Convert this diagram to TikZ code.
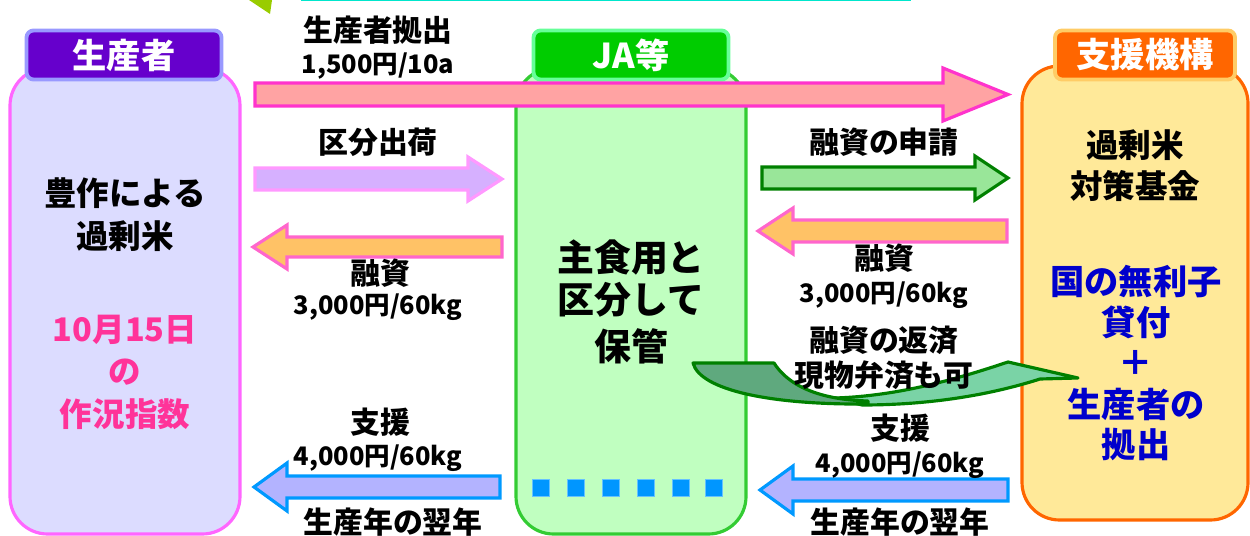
\documentclass[tikz,border=0pt]{standalone}
\usepackage{fontspec}
\setmainfont{Noto Sans CJK JP}
\begin{document}
\begin{tikzpicture}[x=0.02cm,y=-0.02cm,
  lbl/.style={font=\fontsize{17}{20}\selectfont\bfseries, inner sep=0pt},
  num/.style={font=\fontsize{14.5}{17}\selectfont\bfseries, inner sep=0pt},
  tabtxt/.style={font=\fontsize{19.5}{23}\selectfont\bfseries, text=white, inner sep=0pt},
  boxtxt/.style={font=\fontsize{18.5}{22}\selectfont\bfseries, inner sep=0pt},
  bluebox/.style={font=\fontsize{19.5}{23}\selectfont\bfseries, text=bluetxt, inner sep=0pt},
  jatxt/.style={font=\fontsize{21}{25}\selectfont\bfseries, inner sep=0pt},
  bigbox/.style={line width=1.8pt, rounded corners=0.75cm},
  tabbox/.style={line width=2.2pt, rounded corners=0.14cm},
  arr/.style={line width=1.8pt, line join=miter},
  sq/.style={fill=sqblue, draw=sqedge, line width=0.4pt, minimum size=0.34cm, inner sep=0pt}
]
\definecolor{prodfill}{HTML}{DCDCFF}
\definecolor{prodline}{HTML}{FF66FF}
\definecolor{prodtab}{HTML}{6600CC}
\definecolor{prodtabline}{HTML}{9999FF}
\definecolor{jafill}{HTML}{C0FFC0}
\definecolor{jaline}{HTML}{33CC33}
\definecolor{jatab}{HTML}{00CC00}
\definecolor{jatabline}{HTML}{66FF99}
\definecolor{supfill}{HTML}{FFE999}
\definecolor{supline}{HTML}{FF6600}
\definecolor{suptab}{HTML}{FF6600}
\definecolor{suptabline}{HTML}{FFCC66}
\definecolor{a1fill}{HTML}{FFA3A3}
\definecolor{a1line}{HTML}{FF33CC}
\definecolor{a2fill}{HTML}{D6B0FF}
\definecolor{a2line}{HTML}{FF99FF}
\definecolor{a3fill}{HTML}{FFC266}
\definecolor{a3line}{HTML}{FF66CC}
\definecolor{a4fill}{HTML}{99E699}
\definecolor{a4line}{HTML}{008000}
\definecolor{a6fill}{HTML}{B3B3FF}
\definecolor{a6line}{HTML}{0099FF}
\definecolor{curvedark}{HTML}{5FA97E}
\definecolor{curvelight}{HTML}{7AD3A6}
\definecolor{pinktxt}{HTML}{FF3399}
\definecolor{bluetxt}{HTML}{0000CC}
\definecolor{sqblue}{HTML}{0096FF}
\definecolor{sqedge}{HTML}{66C2FF}
\definecolor{topgreen}{HTML}{99CC00}
\definecolor{topcyan}{HTML}{00E6CC}

\useasboundingbox (0,0) rectangle (1250,536);

% cut-off elements at top
\fill[topgreen] (249,0) -- (272,0) -- (270,14) -- cycle;
\draw[topcyan, line width=1pt] (301,0.5) -- (911,0.5);

% boxes
\draw[bigbox, draw=prodline, fill=prodfill] (10,68) rectangle (240,534);
\draw[bigbox, draw=jaline, fill=jafill] (516,68) rectangle (746,534);
\draw[bigbox, draw=supline, fill=supfill] (1022,66) rectangle (1248,520);

% tabs
\node[tabbox, draw=prodtabline, fill=prodtab, minimum width=3.9cm, minimum height=0.98cm, tabtxt] (tprod) at (124,55) {生産者};
\node[tabbox, draw=jatabline, fill=jatab, minimum width=3.9cm, minimum height=0.98cm, tabtxt] (tja) at (631,55) {JA等};
\node[tabbox, draw=suptabline, fill=suptab, minimum width=3.6cm, minimum height=0.98cm, tabtxt] (tsup) at (1145,55) {支援機構};

% arrow 1: producer contribution
\filldraw[arr, draw=a1line, fill=a1fill] (255,83) -- (943,83) -- (943,68) -- (1008,94.5) -- (943,121) -- (943,106) -- (255,106) -- cycle;
% arrow 2: 区分出荷
\filldraw[arr, draw=a2line, fill=a2fill] (255,168) -- (468,168) -- (468,157) -- (502,179) -- (468,201) -- (468,190) -- (255,190) -- cycle;
% arrow 3: 融資 (left)
\filldraw[arr, draw=a3line, fill=a3fill] (502,237) -- (287,237) -- (287,225) -- (253,247) -- (287,269) -- (287,257) -- (502,257) -- cycle;
% arrow 4: 融資の申請
\filldraw[arr, draw=a4line, fill=a4fill] (762,167) -- (975,167) -- (975,156) -- (1008,178) -- (975,200) -- (975,189) -- (762,189) -- cycle;
% arrow 5: 融資 (right)
\filldraw[arr, draw=a3line, fill=a3fill] (1007,220) -- (793,220) -- (793,208) -- (758,231) -- (793,254) -- (793,242) -- (1007,242) -- cycle;
% arrow 6: 支援 (left)
\filldraw[arr, draw=a6line, fill=a6fill] (500,476) -- (287,476) -- (287,463) -- (254,487) -- (287,511) -- (287,498) -- (500,498) -- cycle;
% arrow 7: 支援 (right)
\filldraw[arr, draw=a6line, fill=a6fill] (1008,479) -- (793,479) -- (793,466) -- (760,490) -- (793,514) -- (793,501) -- (1008,501) -- cycle;

% curved arrow
\filldraw[line width=1.8pt, draw=a4line, fill=curvelight, line join=round]
  (835,398) .. controls (900,396) and (960,378) .. (1008,362) -- (1078,378) -- (1040,379)
  .. controls (990,395) and (930,405) .. (862,405) -- cycle;
\filldraw[line width=1.8pt, draw=a4line, fill=curvedark, line join=round]
  (693,363) -- (774,363) .. controls (792,391) and (830,400) .. (868,401)
  -- (868,404) .. controls (770,405) and (700,390) .. (693,363) -- cycle;

% labels
\node[lbl] (l1) at (378,30) {生産者拠出};
\node[num] (n1) at (378,66) {1,500円/10a};
\node[lbl] (l2) at (378,142) {区分出荷};
\node[lbl] (l3) at (380,273) {融資};
\node[num] (n3) at (378,307) {3,000円/60kg};
\node[lbl] (l4) at (884,142) {融資の申請};
\node[lbl] (l5) at (884,258) {融資};
\node[num] (n5) at (884,295) {3,000円/60kg};
\node[lbl] (l6) at (884,340) {融資の返済};
\node[lbl] (l6b) at (884,375) {現物弁済も可};
\node[lbl] (l7) at (380,422) {支援};
\node[num] (n7) at (378,458) {4,000円/60kg};
\node[lbl] (l7b) at (393,522) {生産年の翌年};
\node[lbl] (l8) at (900,428) {支援};
\node[num] (n8) at (900,465) {4,000円/60kg};
\node[lbl] (l8b) at (900,522) {生産年の翌年};

% producer box texts
\node[boxtxt] (p1) at (125,193) {豊作による};
\node[boxtxt] (p2) at (125,236) {過剰米};
\node[boxtxt, text=pinktxt] (p3) at (125,330) {10月15日};
\node[boxtxt, text=pinktxt] (p4) at (125,372) {の};
\node[boxtxt, text=pinktxt] (p5) at (125,414) {作況指数};

% JA box texts
\node[jatxt] (j1) at (631,258) {主食用と};
\node[jatxt] (j2) at (631,300) {区分して};
\node[jatxt] (j3) at (631,346) {保管};
\foreach \i/\xx in {1/541,2/576,3/611,4/646,5/681,6/714}
  \node[sq] (sq\i) at (\xx,488) {};

% support org texts
\node[boxtxt] (s1) at (1135,145) {過剰米};
\node[boxtxt] (s2) at (1135,186) {対策基金};
\node[bluebox] (s3) at (1136,282) {国の無利子};
\node[bluebox] (s4) at (1136,322) {貸付};
\node[bluebox] (s5) at (1136,363) {＋};
\node[bluebox] (s6) at (1136,404) {生産者の};
\node[bluebox] (s7) at (1136,445) {拠出};
\end{tikzpicture}
\end{document}
